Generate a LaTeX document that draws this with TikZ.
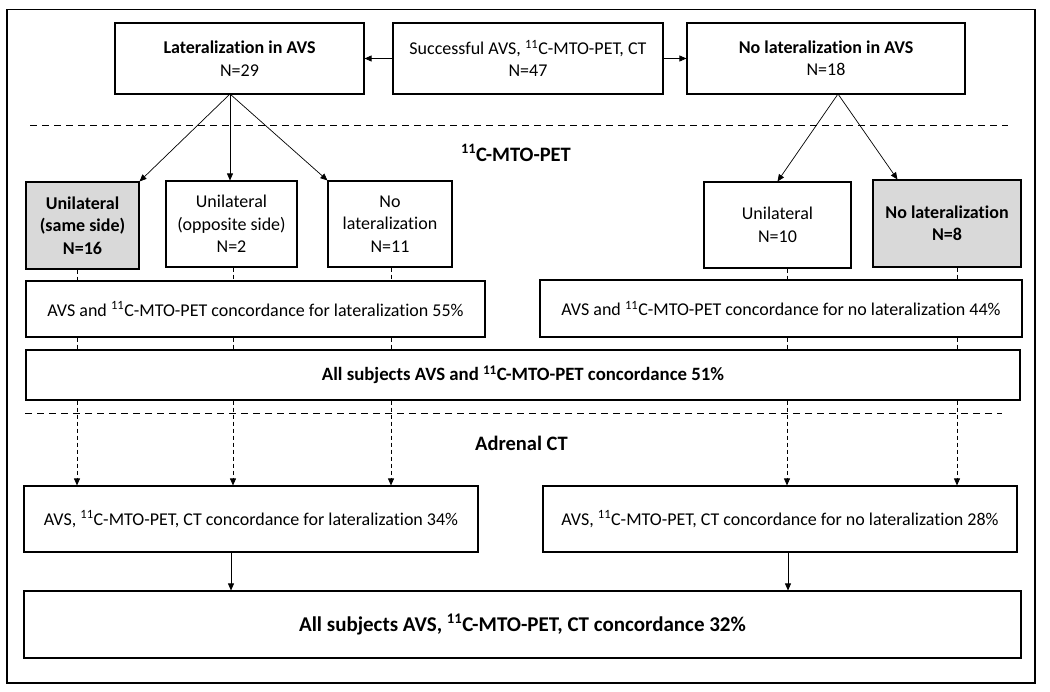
\documentclass[tikz,border=0pt]{standalone}
\usepackage{fontspec}
\setmainfont{Carlito}[Ligatures={NoCommon}]
\usetikzlibrary{arrows.meta}
\definecolor{boxgrey}{HTML}{D9D9D9}
\tikzset{
  box/.style={draw, line width=1.1pt, align=center, inner sep=0pt, font=\fontsize{18}{22.5}\selectfont},
  greybox/.style={box, fill=boxgrey, font=\fontsize{18}{22.5}\selectfont\bfseries},
  arr/.style={line width=0.7pt, -{Triangle[length=7pt,width=6pt]}},
  darr/.style={line width=0.8pt, dash pattern=on 4pt off 3pt, -{Triangle[length=7pt,width=6pt]}},
  dseg/.style={line width=0.8pt, dash pattern=on 4pt off 3pt},
  divider/.style={line width=0.9pt, dash pattern=on 7pt off 5pt},
  lbl/.style={font=\fontsize{20.5}{24}\selectfont\bfseries, inner sep=0pt}
}
\newcommand{\iso}{\textsuperscript{11}}
\begin{document}
\begin{tikzpicture}[x=1pt,y=-1pt]
\useasboundingbox (0,0) rectangle (1050,692);
\draw[line width=1.6pt] (7,9.5) rectangle (1035,683);

% top row
\node[box, minimum width=249, minimum height=71] (lat) at (239.5,58.5) {\textbf{Lateralization in AVS}\\N=29};
\node[box, minimum width=270, minimum height=71] (succ) at (528,58.5) {Successful AVS, \iso C-MTO-PET, CT\\N=47};
\node[box, minimum width=278, minimum height=71] (nolat) at (826,58.5) {\textbf{No lateralization in AVS}\\N=18};
\draw[arr] (succ.west) -- (lat.east);
\draw[arr] (succ.east) -- (nolat.west);

\draw[divider] (30,125) -- (1008,125);
\node[lbl] (pet) at (516,153) {\iso C-MTO-PET};

% PET row
\node[greybox, minimum width=113, minimum height=87] (same) at (82.5,225.5) {Unilateral\\(same side)\\N=16};
\node[box, minimum width=131, minimum height=86] (opp) at (231.5,224) {Unilateral\\(opposite side)\\N=2};
\node[box, minimum width=124, minimum height=86] (nol11) at (390,224) {No\\lateralization\\N=11};
\node[box, minimum width=147, minimum height=86] (uni10) at (777.5,225) {Unilateral\\N=10};
\node[greybox, minimum width=148, minimum height=87] (nol8) at (947,223.5) {No lateralization\\N=8};

\coordinate (latsrc) at (230,94);
\coordinate (nolsrc) at (838,94);
\draw[arr] (latsrc) -- (same.north east);
\draw[arr] (latsrc) -- (latsrc |- opp.north);
\draw[arr] (latsrc) -- (nol11.north west);
\draw[arr] (nolsrc) -- (uni10.north);
\draw[arr] (nolsrc) -- ([xshift=25pt]nol8.north west);

\node[box, minimum width=459, minimum height=56] (c55) at (255.5,309) {AVS and \iso C-MTO-PET concordance for lateralization 55\%};
\node[box, minimum width=482, minimum height=57] (c44) at (781,308.5) {AVS and \iso C-MTO-PET concordance for no lateralization 44\%};
\node[box, minimum width=994, minimum height=50, font=\fontsize{18.8}{22}\selectfont\bfseries] (all51) at (523,375) {All subjects AVS and \iso C-MTO-PET concordance 51\%};

\draw[divider] (25,413) -- (1002,413);
\node[lbl] (ct) at (521.5,443) {Adrenal CT};

\node[box, minimum width=454, minimum height=66] (c34) at (251,519) {AVS, \iso C-MTO-PET, CT concordance for lateralization 34\%};
\node[box, minimum width=474, minimum height=66] (c28) at (780,519) {AVS, \iso C-MTO-PET, CT concordance for no lateralization 28\%};
\node[box, minimum width=997, minimum height=67, font=\fontsize{21}{25}\selectfont\bfseries] (all32) at (522.5,624.5) {All subjects AVS, \iso C-MTO-PET, CT concordance 32\%};

% dashed columns
\coordinate (cA) at (77,0);
\coordinate (cB) at (233,0);
\coordinate (cC) at (391,0);
\coordinate (cD) at (787,0);
\coordinate (cE) at (957,0);

\draw[dseg] (same.south -| cA) -- (c55.north -| cA);
\draw[dseg] (opp.south -| cB) -- (c55.north -| cB);
\draw[dseg] (nol11.south -| cC) -- (c55.north -| cC);
\draw[dseg] (uni10.south -| cD) -- (c44.north -| cD);
\draw[dseg] (nol8.south -| cE) -- (c44.north -| cE);

\draw[dseg] (c55.south -| cA) -- (all51.north -| cA);
\draw[dseg] (c55.south -| cB) -- (all51.north -| cB);
\draw[dseg] (c55.south -| cC) -- (all51.north -| cC);
\draw[dseg] (c44.south -| cD) -- (all51.north -| cD);
\draw[dseg] (c44.south -| cE) -- (all51.north -| cE);

\draw[darr] (all51.south -| cA) -- (c34.north -| cA);
\draw[darr] (all51.south -| cB) -- (c34.north -| cB);
\draw[darr] (all51.south -| cC) -- (c34.north -| cC);
\draw[darr] (all51.south -| cD) -- (c28.north -| cD);
\draw[darr] (all51.south -| cE) -- (c28.north -| cE);

\coordinate (cF) at (231,0);
\coordinate (cG) at (788,0);
\draw[arr] (c34.south -| cF) -- (all32.north -| cF);
\draw[arr] (c28.south -| cG) -- (all32.north -| cG);
\end{tikzpicture}
\end{document}
